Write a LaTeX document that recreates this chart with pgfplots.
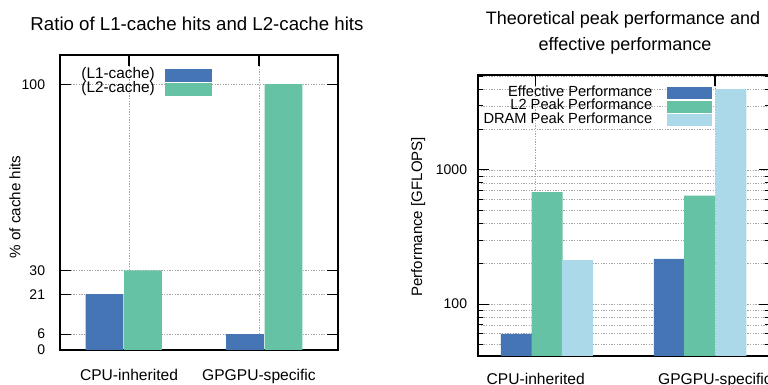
\documentclass[border=0pt]{standalone}
\usepackage{fontspec}
\setmainfont{Liberation Sans}
\usepackage{pgfplots}
\pgfplotsset{compat=1.18}
\definecolor{cA}{HTML}{4575B4}
\definecolor{cB}{HTML}{66C2A5}
\definecolor{cC}{HTML}{ABD9E9}
\pgfplotsset{
  gstyle/.style={
    scale only axis,
    tick align=inside,
    major tick length=8pt,
    minor tick length=4pt,
    tick style={black, line width=0.8pt},
    axis line style={line width=1.4pt},
    xtick pos=right, xticklabel pos=left,
    ytick pos=both,
    xmajorgrids, ymajorgrids,
    major grid style={gray!70, line width=0.5pt, dash pattern=on 1pt off 1pt},
    minor grid style={gray!70, line width=0.5pt, dash pattern=on 1pt off 1pt},
    /pgf/number format/assume math mode=true,
    yticklabel style={anchor=east, inner sep=0pt, font=\fontsize{10.5}{12}\selectfont},
    xticklabel style={anchor=base, inner sep=0pt, font=\fontsize{11.7}{13}\selectfont},
    legend cell align=right,
    legend plot pos=right,
    clip=true,
  },
}
\begin{document}
\begin{tikzpicture}
\path[use as bounding box] (0pt,0pt) rectangle (576pt,288.75pt);
\clip (0pt,0pt) rectangle (576pt,288.75pt);
% ---------- Left chart ----------
\begin{axis}[gstyle,
  at={(45pt,26.25pt)}, anchor=south west,
  width=208.5pt, height=221.25pt,
  xmin=-0.531, xmax=1.608,
  ymin=0, ymax=111,
  xtick={0,1}, xticklabels={CPU-inherited,GPGPU-specific},
  ytick={0,6,21,30,100},
  yticklabel style={xshift=-11pt},
  xticklabel style={yshift=-23pt},
  ylabel={\% of cache hits},
  every axis y label/.style={at={(axis description cs:-0.162,0.485)}, rotate=90, anchor=center, font=\fontsize{11.4}{13}\selectfont},
  legend image code/.code={\path (0pt,0pt); \fill[#1,draw=none] (8pt,-4.9pt) rectangle (43pt,4.9pt);},
  legend style={draw=none, fill=none, at={(axis description cs:0.547,0.953)}, anchor=north east,
    inner sep=0pt, outer sep=0pt, row sep=0.6pt,
    nodes={inner sep=0pt, text height=6.5pt, text depth=2pt, font=\fontsize{11.5}{12}\selectfont}},
]
\addplot[ybar, bar width=0.29, bar shift=0pt, fill=cA, draw=none] coordinates {(-0.188,21) (0.892,6)};
\addplot[ybar, bar width=0.29, bar shift=0pt, fill=cB, draw=none] coordinates {(0.108,30) (1.188,100)};
\legend{(L1-cache),(L2-cache)}
\end{axis}
% ---------- Right chart ----------
\begin{axis}[gstyle,
  at={(358.5pt,21.75pt)}, anchor=south west,
  width=219pt, height=210.75pt,
  ymode=log, log basis y=10,
  xmin=-0.322, xmax=1.307,
  ymin=41, ymax=5100,
  xtick={0,1}, xticklabels={CPU-inherited,GPGPU-specific},
  ytick={100,1000}, yticklabels={100,1000},
  minor ytick={50,60,70,80,90,200,300,400,500,600,700,800,900,2000,3000,4000,5000},
  yminorgrids=true,
  yticklabel style={xshift=-8pt},
  xticklabel style={yshift=-21.5pt},
  ylabel={Performance [GFLOPS]},
  every axis y label/.style={at={(axis description cs:-0.205,0.495)}, rotate=90, anchor=center, font=\fontsize{11.3}{13}\selectfont},
  legend image code/.code={\path (0pt,0pt); \fill[#1,draw=none] (11pt,-4.6pt) rectangle (44.75pt,4.6pt);},
  legend style={draw=none, fill=none, at={(axis description cs:0.801,0.957)}, anchor=north east,
    inner sep=0pt, outer sep=0pt, row sep=0.9pt,
    nodes={inner sep=0pt, text height=6.5pt, text depth=2pt, font=\fontsize{11}{12}\selectfont}},
]
\addplot[ybar, bar width=0.173, bar shift=0pt, fill=cA, draw=none] coordinates {(-0.108,60) (0.746,217)};
\addplot[ybar, bar width=0.173, bar shift=0pt, fill=cB, draw=none] coordinates {(0.064,682) (0.914,643)};
\addplot[ybar, bar width=0.173, bar shift=0pt, fill=cC, draw=none] coordinates {(0.233,213) (1.089,4000)};
\legend{Effective Performance,L2 Peak Performance,DRAM Peak Performance}
\end{axis}
% ---------- Titles ----------
\node[font=\fontsize{14}{16}\selectfont, anchor=center] at (147.75pt,270.75pt) {Ratio of L1-cache hits and L2-cache hits};
\node[font=\fontsize{13.5}{16}\selectfont, anchor=center] at (467.25pt,273.75pt) {Theoretical peak performance and};
\node[font=\fontsize{13.5}{16}\selectfont, anchor=center] at (468.75pt,254.25pt) {effective performance};
\end{tikzpicture}
\end{document}
